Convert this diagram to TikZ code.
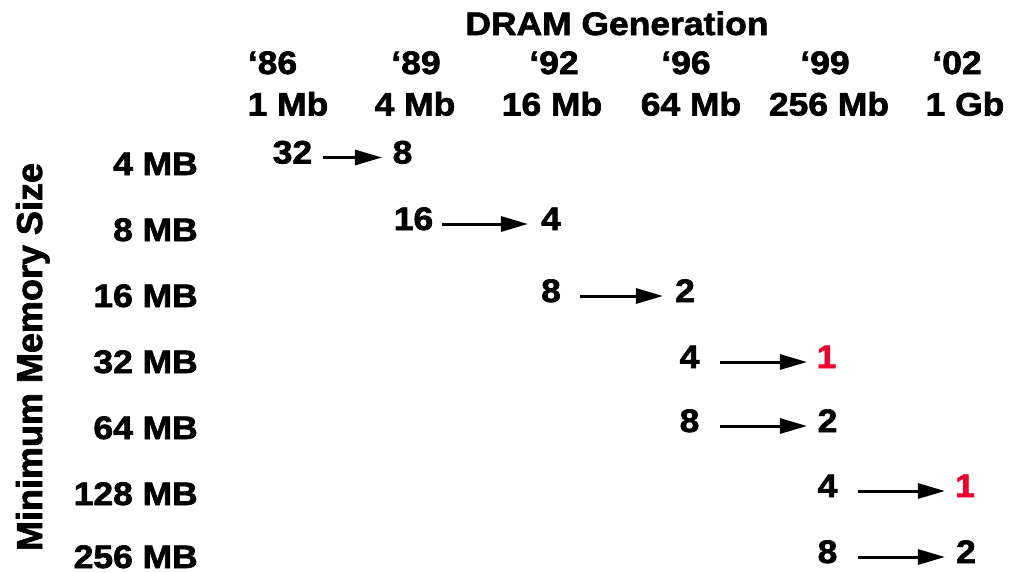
\documentclass[tikz,border=0pt]{standalone}
\usepackage{fontspec}
\setmainfont{Liberation Sans}[FakeStretch=1.09, FakeBold=2]
\newfontfamily\rotfont{Liberation Sans}[FakeBold=2]
\usetikzlibrary{arrows.meta}
\definecolor{hired}{RGB}{236,4,48}
\tikzset{
  lbl/.style={inner sep=0pt, anchor=base, font=\fontsize{32.5}{32.5}\selectfont\bfseries},
  rowlbl/.style={lbl, anchor=base east},
  num/.style={lbl, text height=23pt, text depth=0pt},
  best/.style={num, text=hired},
  arr/.style={line width=3pt, -{Triangle[length=27pt,width=15pt]}},
  axis/.style={inner sep=0pt, anchor=base, rotate=90, font=\rotfont\fontsize{36}{36}\selectfont\bfseries}
}
\begin{document}
\begin{tikzpicture}[x=1pt,y=-1pt]
\useasboundingbox (0,0) rectangle (1013,573);
% header
\node[lbl] (title) at (617,35) {DRAM Generation};
\node[lbl] (y86) at (272.5,74) {‘86};
\node[lbl] (y89) at (416,74) {‘89};
\node[lbl] (y92) at (554,74) {‘92};
\node[lbl] (y96) at (686,74) {‘96};
\node[lbl] (y99) at (825,74) {‘99};
\node[lbl] (y02) at (957,74) {‘02};
\node[lbl] (g1) at (288,115.5) {1 Mb};
\node[lbl] (g4) at (415,115.5) {4 Mb};
\node[lbl] (g16) at (552,115.5) {16 Mb};
\node[lbl] (g64) at (691,115.5) {64 Mb};
\node[lbl] (g256) at (829,115.5) {256 Mb};
\node[lbl] (g1g) at (965,115.5) {1 Gb};
% axis
\node[axis] (axis) at (42,357) {Minimum Memory Size};
% row labels
\node[rowlbl] (r1) at (198,175) {4 MB};
\node[rowlbl] (r2) at (198,241) {8 MB};
\node[rowlbl] (r3) at (198,307) {16 MB};
\node[rowlbl] (r4) at (198,373) {32 MB};
\node[rowlbl] (r5) at (198,439) {64 MB};
\node[rowlbl] (r6) at (198,505) {128 MB};
\node[rowlbl] (r7) at (198,568) {256 MB};
% numbers
\node[num] (a1) at (292.5,163.5) {32};
\node[num] (b1) at (402.5,163.5) {8};
\node[num] (a2) at (413.5,230) {16};
\node[num] (b2) at (551,230) {4};
\node[num] (a3) at (551,302) {8};
\node[num] (b3) at (685,302) {2};
\node[num] (a4) at (689.5,368) {4};
\node[best] (b4) at (826.5,368) {1};
\node[num] (a5) at (689.5,432) {8};
\node[num] (b5) at (827.5,432) {2};
\node[num] (a6) at (827.5,497) {4};
\node[best] (b6) at (965,497) {1};
\node[num] (a7) at (827.5,563) {8};
\node[num] (b7) at (966,563) {2};
% arrows
\draw[arr, shorten <=10.5pt, shorten >=10.5pt] ([yshift=-5.5pt]a1.east) -- ([yshift=-5.5pt]b1.west);
\draw[arr, shorten <=8.5pt, shorten >=13pt] ([yshift=-5.5pt]a2.east) -- ([yshift=-5.5pt]b2.west);
\draw[arr, shorten <=19pt, shorten >=12pt] ([yshift=-5.5pt]a3.east) -- ([yshift=-5.5pt]b3.west);
\draw[arr, shorten <=20.5pt, shorten >=9.5pt] ([yshift=-5.5pt]a4.east) -- ([yshift=-5.5pt]b4.west);
\draw[arr, shorten <=20.5pt, shorten >=10.5pt] ([yshift=-5.5pt]a5.east) -- ([yshift=-5.5pt]b5.west);
\draw[arr, shorten <=20.5pt, shorten >=10pt] ([yshift=-5.5pt]a6.east) -- ([yshift=-5.5pt]b6.west);
\draw[arr, shorten <=20.5pt, shorten >=11pt] ([yshift=-5.5pt]a7.east) -- ([yshift=-5.5pt]b7.west);
\end{tikzpicture}
\end{document}
